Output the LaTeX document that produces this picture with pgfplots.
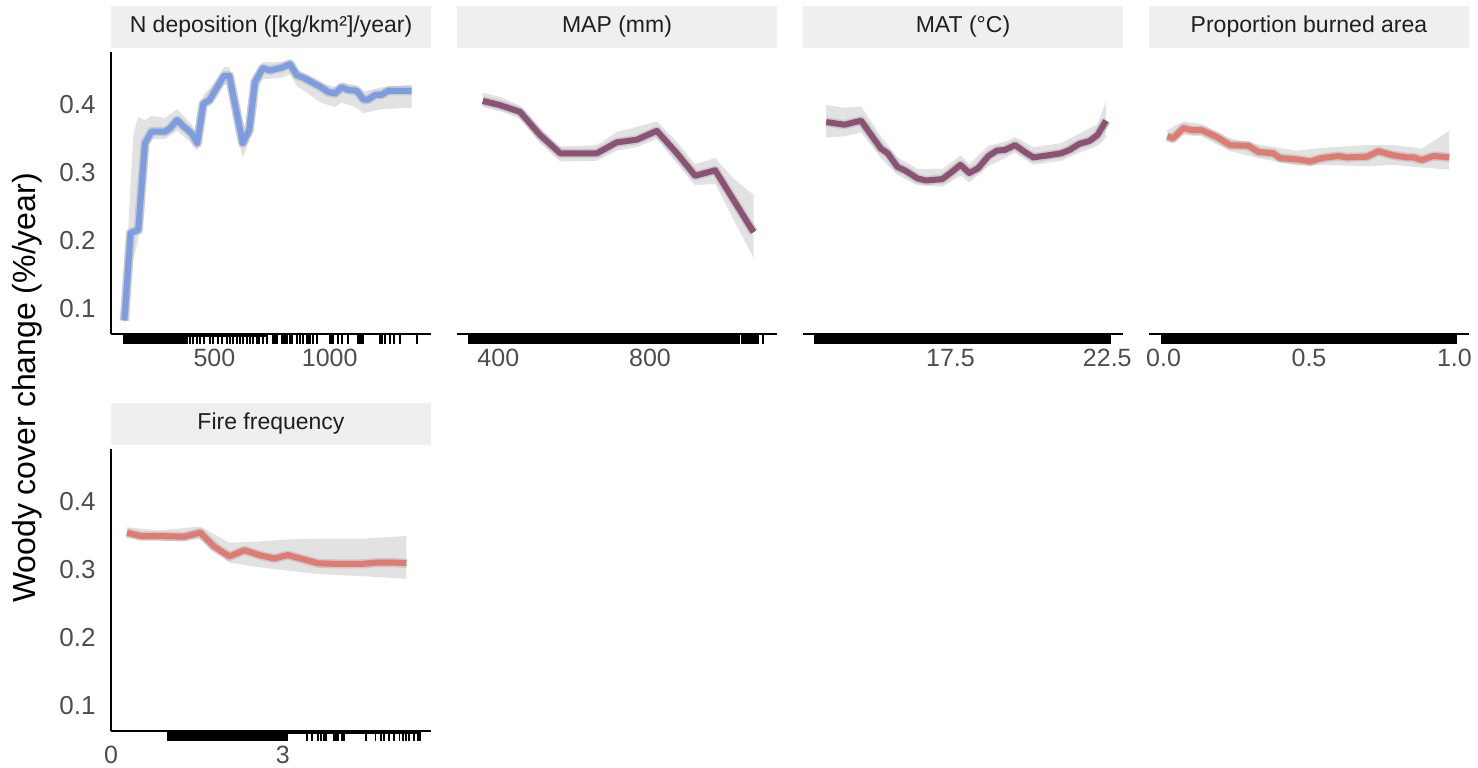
\documentclass[border=0pt]{standalone}
\usepackage{pgfplots}
\usepackage{pgfplotstable}
\pgfplotsset{compat=1.18}
\usepackage{fontspec}
\setmainfont{Liberation Sans}
\definecolor{stripgray}{HTML}{EFEFEF}
\definecolor{ticktext}{HTML}{4D4D4D}
\definecolor{nblue}{HTML}{7D9DE2}
\definecolor{mauve}{HTML}{8C5275}
\definecolor{salmon}{HTML}{E07B71}
\definecolor{cloud}{HTML}{E2E2E2}
\definecolor{core}{HTML}{C9C9C9}

% ---------- main curves ----------
\pgfplotstableread{
x y
110 0.083
137 0.212
170 0.216
199 0.344
228 0.361
286 0.361
308 0.366
339 0.378
365 0.369
402 0.358
426 0.344
452 0.402
478 0.407
510 0.425
542 0.443
565 0.443
597 0.388
623 0.344
651 0.363
676 0.434
710 0.454
741 0.451
792 0.455
828 0.460
857 0.444
893 0.439
958 0.427
994 0.419
1023 0.417
1052 0.426
1081 0.422
1117 0.421
1146 0.408
1167 0.408
1196 0.415
1225 0.415
1254 0.421
1355 0.421
}\mainA
% band of individual curves: upper edge left to right, then lower edge right to left
\pgfplotstableread{
x y
110 0.095
124 0.200
137 0.285
150 0.360
170 0.382
199 0.378
228 0.384
286 0.381
339 0.394
402 0.371
426 0.357
452 0.414
510 0.437
542 0.456
565 0.456
597 0.402
623 0.362
651 0.378
676 0.446
710 0.463
792 0.463
828 0.468
857 0.453
893 0.446
958 0.433
1023 0.427
1052 0.433
1117 0.429
1146 0.420
1225 0.426
1355 0.430
1355 0.396
1225 0.394
1146 0.388
1117 0.396
1052 0.404
1023 0.397
958 0.404
893 0.420
857 0.428
828 0.445
792 0.440
710 0.438
676 0.418
651 0.348
623 0.322
597 0.360
565 0.428
542 0.430
510 0.412
452 0.390
426 0.332
402 0.343
339 0.362
286 0.350
228 0.350
199 0.340
170 0.200
150 0.175
137 0.160
124 0.100
110 0.075
}\bandA

\pgfplotstableread{
x y
359 0.406
404 0.400
457 0.390
510 0.356
563 0.329
660 0.329
712 0.345
765 0.349
818 0.362
871 0.329
919 0.296
972 0.304
1073 0.213
}\mainB
\pgfplotstableread{
x y
359 0.418
404 0.412
457 0.399
510 0.366
563 0.339
660 0.341
712 0.360
765 0.368
818 0.376
871 0.346
919 0.313
972 0.322
1020 0.292
1073 0.268
1073 0.175
1020 0.232
972 0.284
919 0.282
871 0.314
818 0.350
765 0.338
712 0.333
660 0.318
563 0.317
510 0.344
457 0.380
404 0.391
359 0.397
}\bandB

\pgfplotstableread{
x y
13.54 0.375
14.12 0.371
14.65 0.377
15.28 0.336
15.50 0.329
15.81 0.309
16.08 0.303
16.45 0.292
16.71 0.289
17.24 0.291
17.50 0.300
17.82 0.312
18.10 0.300
18.38 0.307
18.71 0.325
18.98 0.333
19.24 0.334
19.56 0.341
19.87 0.331
20.14 0.323
20.61 0.326
21.03 0.329
21.30 0.334
21.61 0.343
21.93 0.347
22.19 0.356
22.46 0.377
}\mainC
\pgfplotstableread{
x y
13.54 0.400
14.12 0.396
14.65 0.398
15.28 0.354
15.81 0.323
16.45 0.306
17.24 0.306
17.82 0.326
18.10 0.313
18.71 0.340
19.24 0.346
19.56 0.353
20.14 0.338
21.03 0.344
21.61 0.358
22.19 0.372
22.46 0.405
22.46 0.352
22.19 0.340
21.61 0.330
21.03 0.318
20.14 0.312
19.56 0.330
19.24 0.322
18.71 0.310
18.10 0.286
17.82 0.296
17.24 0.280
16.45 0.282
15.81 0.297
15.28 0.322
14.65 0.360
14.12 0.354
13.54 0.352
}\bandC

\pgfplotstableread{
x y
0.013 0.354
0.032 0.351
0.068 0.366
0.097 0.363
0.131 0.363
0.183 0.353
0.229 0.341
0.292 0.340
0.326 0.331
0.377 0.329
0.400 0.322
0.458 0.320
0.504 0.317
0.544 0.322
0.601 0.325
0.630 0.323
0.699 0.324
0.738 0.332
0.790 0.326
0.836 0.323
0.859 0.323
0.888 0.319
0.927 0.325
0.956 0.324
0.982 0.323
}\mainD
\pgfplotstableread{
x y
0.013 0.363
0.068 0.376
0.131 0.372
0.229 0.351
0.326 0.342
0.458 0.333
0.544 0.337
0.699 0.341
0.790 0.341
0.888 0.336
0.982 0.362
0.982 0.305
0.888 0.308
0.790 0.312
0.699 0.310
0.544 0.312
0.458 0.311
0.326 0.322
0.229 0.332
0.131 0.354
0.068 0.356
0.013 0.345
}\bandD

\pgfplotstableread{
x y
0.28 0.355
0.52 0.350
0.82 0.350
1.28 0.349
1.56 0.355
1.81 0.334
2.07 0.320
2.33 0.329
2.59 0.322
2.85 0.317
3.09 0.322
3.35 0.316
3.61 0.310
3.90 0.309
4.37 0.309
4.66 0.311
4.92 0.311
5.16 0.310
}\mainE
\pgfplotstableread{
x y
0.28 0.363
0.82 0.358
1.56 0.364
2.07 0.340
2.59 0.342
3.09 0.345
3.61 0.346
4.37 0.346
5.16 0.350
5.16 0.287
4.37 0.291
3.61 0.294
3.09 0.299
2.59 0.304
2.07 0.311
1.56 0.345
0.82 0.344
0.28 0.347
}\bandE

\pgfplotsset{
  panel/.style={
    scale only axis, width=160pt, height=141pt,
    ymin=0.0632, ymax=0.478,
    axis x line*=bottom, axis y line*=left,
    axis line style={black, line width=1pt},
    major tick length=0pt,
    tick style={draw=none},
    xticklabel style={font=\fontsize{12.5}{14}\selectfont, text=ticktext, anchor=north, inner sep=0pt, yshift=-7.5pt},
    yticklabel style={font=\fontsize{13}{15}\selectfont, text=ticktext, anchor=east, inner sep=0pt, xshift=-7.5pt},
    ytick={0.1,0.2,0.3,0.4}, yticklabels={0.1,0.2,0.3,0.4},
    every axis title/.style={at={(rel axis cs:0.5,1)}, anchor=south, yshift=2pt, fill=stripgray,
      minimum width=160pt, minimum height=21pt, inner sep=0pt, text=black!88,
      font=\fontsize{11.5}{13}\selectfont},
    clip=false,
  },
  noy/.style={axis y line=none},
  bandfill/.style={fill=cloud, draw=none},
  mainline/.style={line width=3pt, line join=round},
  coreline/.style={core, line width=4.6pt, line join=round},
  rugtick/.style={only marks, mark=|, mark size=2.5pt, mark options={line width=0.95pt, black}},
  rugbar/.style={black, line width=5pt, line cap=butt},
}

\begin{document}
\begin{tikzpicture}
\path (0,0) rectangle (739pt,383.5pt);

% ---------- Panel 1 ----------
\begin{axis}[panel, at={(55.5pt,216.5pt)}, anchor=south west,
  xmin=52, xmax=1439, xtick={500,1000}, xticklabels={500,1000},
  title={N deposition ([kg/km²]/year)}]
\addplot[bandfill] table[x=x,y=y]{\bandA};
\addplot[coreline] table[x=x,y=y]{\mainA};
\addplot[mainline, nblue] table[x=x,y=y]{\mainA};
\addplot[rugbar] coordinates {(103,0.0558)(387,0.0558)};
\addplot[black, line width=1.4pt, line cap=butt] coordinates {(387,0.0612)(727,0.0612)};
\addplot[rugtick] coordinates {(394,0.0558)(409,0.0558)(423,0.0558)(438,0.0558)(455,0.0558)(481,0.0558)(496,0.0558)(517,0.0558)(532,0.0558)(554,0.0558)(568,0.0558)(582,0.0558)(597,0.0558)(611,0.0558)(626,0.0558)(640,0.0558)(655,0.0558)(669,0.0558)(684,0.0558)(695,0.0558)(712,0.0558)(727,0.0558)(756,0.0558)(762,0.0558)(770,0.0558)(792,0.0558)(799,0.0558)(806,0.0558)(814,0.0558)(828,0.0558)(835,0.0558)(857,0.0558)(871,0.0558)(886,0.0558)(900,0.0558)(908,0.0558)(915,0.0558)(929,0.0558)(944,0.0558)(1001,0.0558)(1008,0.0558)(1016,0.0558)(1037,0.0558)(1052,0.0558)(1081,0.0558)(1124,0.0558)(1131,0.0558)(1139,0.0558)(1146,0.0558)(1218,0.0558)(1225,0.0558)(1240,0.0558)(1261,0.0558)(1279,0.0558)(1305,0.0558)(1377,0.0558)};
\end{axis}

% ---------- Panel 2 ----------
\begin{axis}[panel, noy, at={(228.5pt,216.5pt)}, anchor=south west,
  xmin=291, xmax=1135, xtick={400,800}, xticklabels={400,800},
  title={MAP (mm)}]
\addplot[bandfill] table[x=x,y=y]{\bandB};
\addplot[coreline] table[x=x,y=y]{\mainB};
\addplot[mainline, mauve] table[x=x,y=y]{\mainB};
\addplot[rugbar] coordinates {(320,0.0558)(1037,0.0558)};
\addplot[rugbar] coordinates {(1041,0.0558)(1088,0.0558)};
\addplot[rugtick] coordinates {(1098,0.0558)};
\end{axis}

% ---------- Panel 3 ----------
\begin{axis}[panel, noy, at={(401.5pt,216.5pt)}, anchor=south west,
  xmin=12.8, xmax=23.0, xtick={17.5,22.5}, xticklabels={17.5,22.5},
  title={MAT (°C)}]
\addplot[bandfill] table[x=x,y=y]{\bandC};
\addplot[coreline] table[x=x,y=y]{\mainC};
\addplot[mainline, mauve] table[x=x,y=y]{\mainC};
\addplot[rugbar] coordinates {(13.15,0.0558)(22.62,0.0558)};
\end{axis}

% ---------- Panel 4 ----------
\begin{axis}[panel, noy, at={(574.5pt,216.5pt)}, anchor=south west,
  xmin=-0.05, xmax=1.05, xtick={0,0.5,1}, xticklabels={0.0,0.5,1.0},
  title={Proportion burned area}]
\addplot[bandfill] table[x=x,y=y]{\bandD};
\addplot[coreline] table[x=x,y=y]{\mainD};
\addplot[mainline, salmon] table[x=x,y=y]{\mainD};
\addplot[rugbar] coordinates {(-0.01,0.0558)(1.01,0.0558)};
\end{axis}

% ---------- Panel 5 ----------
\begin{axis}[panel, at={(55.5pt,18pt)}, anchor=south west,
  xmin=0, xmax=5.59, xtick={0,3}, xticklabels={0,3},
  title={Fire frequency}]
\addplot[bandfill] table[x=x,y=y]{\bandE};
\addplot[coreline] table[x=x,y=y]{\mainE};
\addplot[mainline, salmon] table[x=x,y=y]{\mainE};
\addplot[rugbar] coordinates {(0.98,0.0558)(3.09,0.0558)};
\addplot[black, line width=1.5pt, line cap=butt] coordinates {(3.09,0.0607)(5.40,0.0607)};
\addplot[rugtick] coordinates {(3.42,0.0558)(3.51,0.0558)(3.61,0.0558)(3.67,0.0558)(3.72,0.0558)(3.76,0.0558)(3.89,0.0558)(3.93,0.0558)(3.97,0.0558)(4.03,0.0558)(4.07,0.0558)(4.46,0.0558)(4.62,0.0558)(4.72,0.0558)(4.77,0.0558)(4.85,0.0558)(4.95,0.0558)(5.04,0.0558)(5.10,0.0558)(5.16,0.0558)(5.21,0.0558)(5.30,0.0558)(5.36,0.0558)(5.40,0.0558)};
\end{axis}

\node[rotate=90, font=\fontsize{16}{19}\selectfont] at (13.5pt,189.5pt) {Woody cover change (\%/year)};
\end{tikzpicture}
\end{document}
